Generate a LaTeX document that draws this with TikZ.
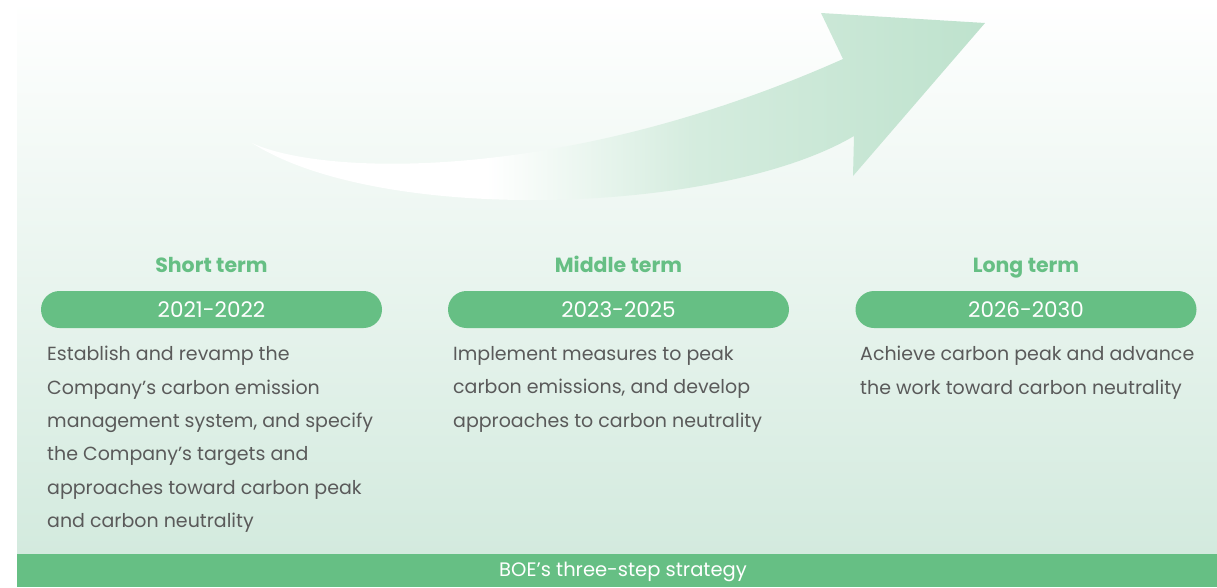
\documentclass[tikz,border=0pt]{standalone}
\usepackage{fontspec}
\setmainfont{Poppins}
\usetikzlibrary{positioning}
\definecolor{boegreen}{HTML}{66BF84}
\definecolor{panelgreen}{HTML}{D3EADE}
\definecolor{arrowgreen}{HTML}{BEE2CD}
\definecolor{bodygrey}{HTML}{5A5A5A}
\pgfdeclarehorizontalshading{arrowfade}{100bp}{color(0bp)=(white); color(41bp)=(white); color(55bp)=(arrowgreen!65!white); color(75bp)=(arrowgreen); color(100bp)=(arrowgreen)}
\begin{document}
\begin{tikzpicture}[x=1pt,y=-1pt,
	term/.style={anchor=base, font=\fontsize{20.5}{20.5}\selectfont\bfseries, text=boegreen, inner sep=0pt},
	pill/.style={fill=boegreen, rounded corners=18.5pt, minimum width=341pt, minimum height=37pt, text=white, font=\fontsize{21.5}{21.5}\selectfont, inner sep=0pt},
	body/.style={anchor=north west, align=left, text=bodygrey, font=\fontsize{19}{33.4}\selectfont, inner sep=0pt}]
	\useasboundingbox (0,0) rectangle (1217,587);
	% Background panel and strategy bar
	\shade[top color=white, bottom color=panelgreen] (17,0) rectangle (1217,554);
	\fill[boegreen] (17,554) rectangle (1217,587);
	\node[text=white, font=\fontsize{19.5}{19.5}\selectfont, inner sep=0pt] (strategy) at (623,572) {BOE's three-step strategy};
	% Rising arrow
	\shade[shading=arrowfade] (252,143) .. controls (320,175) and (560,185) .. (843,59) -- (821,13) -- (985,23) -- (853,176) -- (854,136) .. controls (720,215) and (380,225) .. (252,143) -- cycle;
	% Short term
	\node[pill] (shortyears) at (211.5,309.5) {2021-2022};
	\node[term] (short) at (211.5,272) {Short term};
	\node[body] (shorttext) at (47,346) {Establish and revamp the\\Company's carbon emission\\management system, and specify\\the Company's targets and\\approaches toward carbon peak\\and carbon neutrality};
	% Middle term
	\node[pill] (middleyears) at (618.5,309.5) {2023-2025};
	\node[term] (middle) at (618.5,272) {Middle term};
	\node[body] (middletext) at (453,346) {Implement measures to peak\\carbon emissions, and develop\\approaches to carbon neutrality};
	% Long term
	\node[pill] (longyears) at (1026,309.5) {2026-2030};
	\node[term] (long) at (1026,272) {Long term};
	\node[body] (longtext) at (860,346) {Achieve carbon peak and advance\\the work toward carbon neutrality};
\end{tikzpicture}
\end{document}
